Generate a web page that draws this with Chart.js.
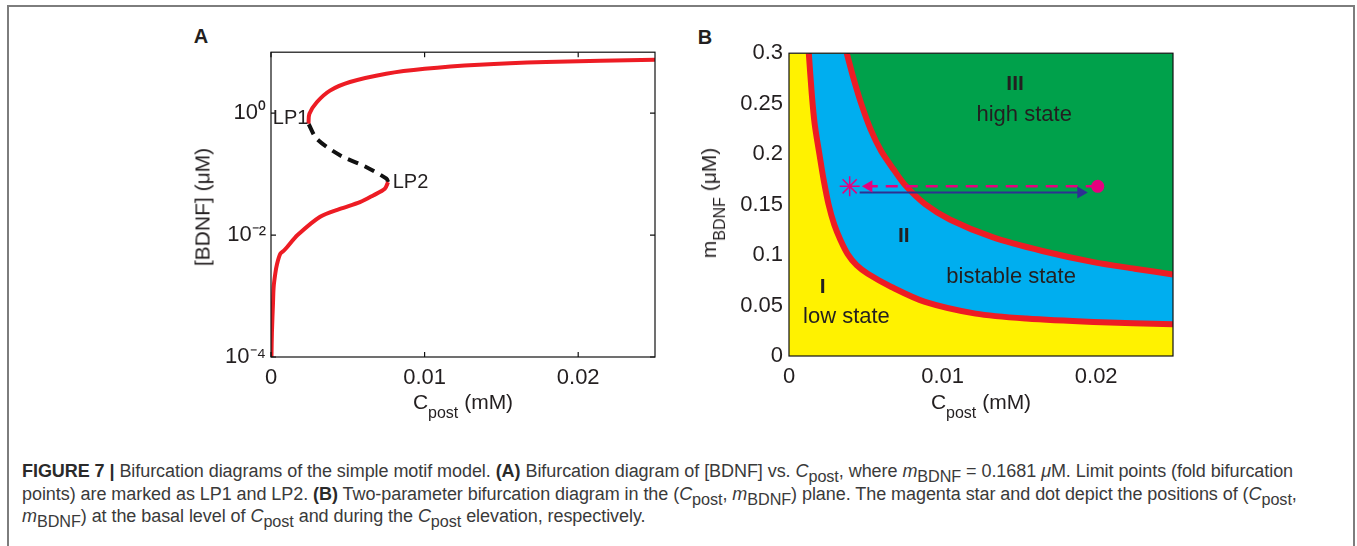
<!DOCTYPE html>
<html>
<head>
<meta charset="utf-8">
<script src="https://cdn.jsdelivr.net/npm/chart.js@4.4.1/dist/chart.umd.min.js"></script>
<style>
  body { margin: 0; width: 1357px; height: 546px; background: #fff; position: relative; overflow: hidden;
         font-family: "Liberation Sans", Arial, sans-serif; color: #231f20; }
  .frame { position: absolute; left: 7px; top: 5px; width: 1348px; height: 600px; border: 2px solid #7d7d7d; box-sizing: border-box; }
  .box { position: absolute; }
  #boxA { left: 170px; top: 34px; width: 500px; height: 386px; }
  #boxB { left: 680px; top: 34px; width: 510px; height: 386px; }
  .letter { position: absolute; font-weight: bold; font-size: 20px; line-height: 20px; transform: translate(-50%, -50%); }
  .xtitle { position: absolute; font-size: 21px; line-height: 21px; white-space: nowrap; transform: translateX(-50%); }
  .ytitle { position: absolute; font-size: 21px; line-height: 21px; white-space: nowrap; transform: translate(-50%, -50%) rotate(-90deg); }
  .xtitle sub, .ytitle sub { font-size: 16px; vertical-align: -9px; line-height: 0; }
  .caption { position: absolute; left: 22px; top: 460px; font-family: "Liberation Sans", Arial, sans-serif;
             font-size: 18px; line-height: 22.5px; letter-spacing: -0.06px; color: #3a3a3a; white-space: nowrap; }
  .caption b { color: #2a2a2a; }
  .caption sub { font-size: 0.9em; vertical-align: -0.3em; line-height: 0; }
</style>
</head>
<body>
<div class="frame"></div>
<div class="letter" style="left:201px; top:36px;">A</div>
<div class="letter" style="left:705px; top:37px;">B</div>
<div class="box" id="boxA"><canvas id="chart_a"></canvas></div>
<div class="box" id="boxB"><canvas id="chart_b"></canvas></div>
<div class="xtitle" style="left:463px; top:391px;">C<sub>post</sub> (mM)</div>
<div class="xtitle" style="left:981px; top:391px;">C<sub>post</sub> (mM)</div>
<div class="ytitle" style="left:202px; top:207px;">[BDNF] (μM)</div>
<div class="ytitle" style="left:709px; top:203px;">m<sub>BDNF</sub> (μM)</div>
<div class="caption">
<b>FIGURE 7 |</b> Bifurcation diagrams of the simple motif model. <b>(A)</b> Bifurcation diagram of [BDNF] vs. <i>C</i><sub>post</sub>, where <i>m</i><sub>BDNF</sub> = 0.1681 <i>μ</i>M. Limit points (fold bifurcation<br>
points) are marked as LP1 and LP2. <b>(B)</b> Two-parameter bifurcation diagram in the (<i>C</i><sub>post</sub>, <i>m</i><sub>BDNF</sub>) plane. The magenta star and dot depict the positions of (<i>C</i><sub>post</sub>,<br>
<i>m</i><sub>BDNF</sub>) at the basal level of <i>C</i><sub>post</sub> and during the <i>C</i><sub>post</sub> elevation, respectively.
</div>

<script>
// panel A: [BDNF] vs Cpost, one-parameter bifurcation
const xTicksA = [0, 0.01, 0.02];
const yTicksA = [1e-4, 1e-2, 1];
const lowBranchX = [0.00003, 0.00006, 0.00013, 0.00017, 0.00028, 0.00039, 0.0006, 0.00082, 0.00104, 0.00173, 0.0032, 0.00449, 0.00579, 0.00665, 0.00741, 0.00762];
const lowBranchY = [0.0001, 0.000251, 0.000759, 0.00138, 0.00234, 0.00331, 0.0049, 0.0055, 0.00631, 0.01, 0.02, 0.0269, 0.0347, 0.0447, 0.0575, 0.0741];
const midBranchX = [0.00762, 0.00752, 0.00622, 0.00449, 0.00298, 0.00244];
const midBranchY = [0.0741, 0.0841, 0.13, 0.204, 0.38, 0.67];
const highBranchX = [0.00244, 0.0025, 0.00298, 0.00384, 0.00514, 0.0075, 0.01, 0.01356, 0.0179, 0.025];
const highBranchY = [0.67, 0.977, 1.51, 2.34, 3.24, 4.44, 5.36, 6.24, 6.89, 7.53];

// panel B: two-parameter diagram
const xTicksB = [0, 0.01, 0.02];
const yTicksB = [0, 0.05, 0.1, 0.15, 0.2, 0.25, 0.3];
const lowBoundX = [0.00129, 0.00148, 0.00167, 0.00198, 0.00225, 0.00258, 0.00295, 0.00335, 0.00382, 0.0044, 0.00513, 0.00667, 0.00886, 0.01215, 0.01544, 0.01982, 0.025];
const lowBoundY = [0.3, 0.26, 0.23, 0.2, 0.175, 0.15, 0.13, 0.115, 0.101, 0.09, 0.0815, 0.0684, 0.0536, 0.042, 0.0371, 0.0338, 0.0315];
const highBoundX = [0.00376, 0.0042, 0.0047, 0.0053, 0.006, 0.0068, 0.0076, 0.00886, 0.0105, 0.01325, 0.0165, 0.01982, 0.0225, 0.025];
const highBoundY = [0.3, 0.275, 0.25, 0.225, 0.203, 0.185, 0.1686, 0.1505, 0.135, 0.1177, 0.104, 0.093, 0.0865, 0.0808];
const basalPoint = {x: 0.00395, y: 0.1681};
const elevatedPoint = {x: 0.0201, y: 0.1681};
const backArrowX = [0.0201, 0.0052];
const upArrowX = [0.0046, 0.0190];
const upArrowY = 0.162;

const labelsA = [
    {text: 'LP1', x: 0.00128, y: 0.81, size: 20},
    {text: 'LP2', x: 0.00908, y: 0.0741, size: 20}
];
const labelsB = [
    {text: 'III', x: 0.01472, y: 0.269, size: 21, bold: true},
    {text: 'high state', x: 0.01531, y: 0.2393, size: 22},
    {text: 'II', x: 0.00747, y: 0.1183, size: 21, bold: true},
    {text: 'bistable state', x: 0.01446, y: 0.0782, size: 22},
    {text: 'I', x: 0.0022, y: 0.0683, size: 21, bold: true},
    {text: 'low state', x: 0.00374, y: 0.0388, size: 22}
];

const RED = '#ed1c24';
const MAGENTA = '#e6007e';
const NAVY = '#2e3192';
const FONT = '"Liberation Sans", Arial, sans-serif';

function pts(xs, ys) {
    return xs.map((x, i) => ({x: x, y: Array.isArray(ys) ? ys[i] : ys}));
}

const supMap = {'-': '\u207b', '0': '\u2070', '1': '\u00b9', '2': '\u00b2', '3': '\u00b3', '4': '\u2074'};
function powLabel(v) {
    const e = String(Math.round(Math.log10(v)));
    return '10' + e.split('').map(c => supMap[c]).join('');
}

const frameBox = {
    id: 'frameBox',
    afterDatasetsDraw(chart, args, opts) {
        const {ctx, chartArea: a, scales} = chart;
        ctx.save();
        ctx.strokeStyle = '#111';
        ctx.lineWidth = 1.2;
        ctx.strokeRect(a.left, a.top, a.right - a.left, a.bottom - a.top);
        if (opts.tickLength) {
            const t = opts.tickLength;
            ctx.beginPath();
            scales.x.ticks.forEach(tk => {
                const px = scales.x.getPixelForValue(tk.value);
                ctx.moveTo(px, a.bottom); ctx.lineTo(px, a.bottom - t);
                ctx.moveTo(px, a.top); ctx.lineTo(px, a.top + t);
            });
            scales.y.ticks.forEach(tk => {
                const py = scales.y.getPixelForValue(tk.value);
                ctx.moveTo(a.left, py); ctx.lineTo(a.left + t, py);
                ctx.moveTo(a.right, py); ctx.lineTo(a.right - t, py);
            });
            ctx.stroke();
        }
        ctx.restore();
    }
};

const textMarks = {
    id: 'textMarks',
    afterDatasetsDraw(chart, args, opts) {
        const {ctx, scales} = chart;
        ctx.save();
        ctx.fillStyle = '#231f20';
        ctx.textAlign = 'center';
        ctx.textBaseline = 'middle';
        (opts.items || []).forEach(it => {
            ctx.font = (it.bold ? 'bold ' : '') + it.size + 'px ' + FONT;
            ctx.fillText(it.text, scales.x.getPixelForValue(it.x), scales.y.getPixelForValue(it.y));
        });
        ctx.restore();
    }
};

Chart.defaults.font.family = FONT;
Chart.defaults.color = '#231f20';

function axisX(ticks, h) {
    return {
        type: 'linear', min: 0, max: 0.025,
        afterBuildTicks: s => { s.ticks = ticks.map(v => ({value: v})); },
        afterFit: s => { s.height = h; },
        grid: {display: false, drawTicks: false},
        border: {display: false},
        ticks: {font: {size: 22}, padding: 8, maxRotation: 0, color: '#231f20'}
    };
}

new Chart(document.getElementById('chart_a'), {
    type: 'line',
    data: {
        datasets: [
            {data: pts(lowBranchX, lowBranchY), borderColor: RED, borderWidth: 4, tension: 0.3, pointRadius: 0, clip: 0},
            {data: pts(midBranchX, midBranchY), borderColor: '#111', borderWidth: 4, borderDash: [11, 7], tension: 0.3, pointRadius: 0, clip: 0},
            {data: pts(highBranchX, highBranchY), borderColor: RED, borderWidth: 4, tension: 0.3, pointRadius: 0, clip: 0}
        ]
    },
    options: {
        responsive: true,
        maintainAspectRatio: false,
        animation: false,
        layout: {padding: {top: 5, right: 15, left: 0, bottom: 0}},
        scales: {
            x: axisX(xTicksA, 63),
            y: {
                type: 'logarithmic', min: 1e-4, max: 10,
                afterBuildTicks: s => { s.ticks = yTicksA.map(v => ({value: v})); },
                afterFit: s => { s.width = 101; },
                grid: {display: false, drawTicks: false},
                border: {display: false},
                ticks: {font: {size: 22}, padding: 5, color: '#231f20', callback: v => powLabel(v)}
            }
        },
        plugins: {
            legend: {display: false},
            tooltip: {enabled: false},
            frameBox: {tickLength: 5},
            textMarks: {items: labelsA}
        }
    },
    plugins: [frameBox, textMarks]
});

new Chart(document.getElementById('chart_b'), {
    type: 'line',
    data: {
        datasets: [
            // markers on top
            {data: [basalPoint], showLine: false, pointStyle: 'star', pointRadius: 10, pointBorderColor: MAGENTA, pointBorderWidth: 1.5, order: 1},
            {data: [elevatedPoint], showLine: false, pointStyle: 'circle', pointRadius: 6.5, pointBackgroundColor: MAGENTA, pointBorderWidth: 0, order: 1},
            {data: [{x: backArrowX[1], y: elevatedPoint.y}], showLine: false, pointStyle: 'triangle', rotation: -90, pointRadius: 7, pointBackgroundColor: MAGENTA, pointBorderWidth: 0, order: 1},
            {data: [{x: upArrowX[1], y: upArrowY}], showLine: false, pointStyle: 'triangle', rotation: 90, pointRadius: 7, pointBackgroundColor: NAVY, pointBorderWidth: 0, order: 1},
            {data: pts(backArrowX, elevatedPoint.y), borderColor: MAGENTA, borderWidth: 2.5, borderDash: [12, 8], pointRadius: 0, order: 2},
            {data: pts(upArrowX, upArrowY), borderColor: NAVY, borderWidth: 2, pointRadius: 0, order: 2},
            // region boundaries and fills
            {data: pts(highBoundX, highBoundY), borderColor: RED, borderWidth: 6, tension: 0.3, pointRadius: 0, clip: 0,
             fill: 'end', backgroundColor: '#00a14b', order: 3},
            {data: pts(lowBoundX, lowBoundY), borderColor: RED, borderWidth: 6, tension: 0.3, pointRadius: 0, clip: 0,
             fill: 'end', backgroundColor: '#00aeef', order: 4},
            {data: pts([0, 0.025], 0.3), borderWidth: 0, pointRadius: 0, fill: 'start', backgroundColor: '#fff200', order: 5}
        ]
    },
    options: {
        responsive: true,
        maintainAspectRatio: false,
        animation: false,
        layout: {padding: {top: 5, right: 17, left: 0, bottom: 0}},
        scales: {
            x: axisX(xTicksB, 64),
            y: {
                type: 'linear', min: 0, max: 0.3,
                afterBuildTicks: s => { s.ticks = yTicksB.map(v => ({value: v})); },
                afterFit: s => { s.width = 109; },
                grid: {display: false, drawTicks: false},
                border: {display: false},
                ticks: {font: {size: 22}, padding: 6, color: '#231f20', callback: v => String(+v.toFixed(2))}
            }
        },
        plugins: {
            legend: {display: false},
            tooltip: {enabled: false},
            frameBox: {},
            textMarks: {items: labelsB}
        }
    },
    plugins: [frameBox, textMarks]
});
</script>
</body>
</html>
